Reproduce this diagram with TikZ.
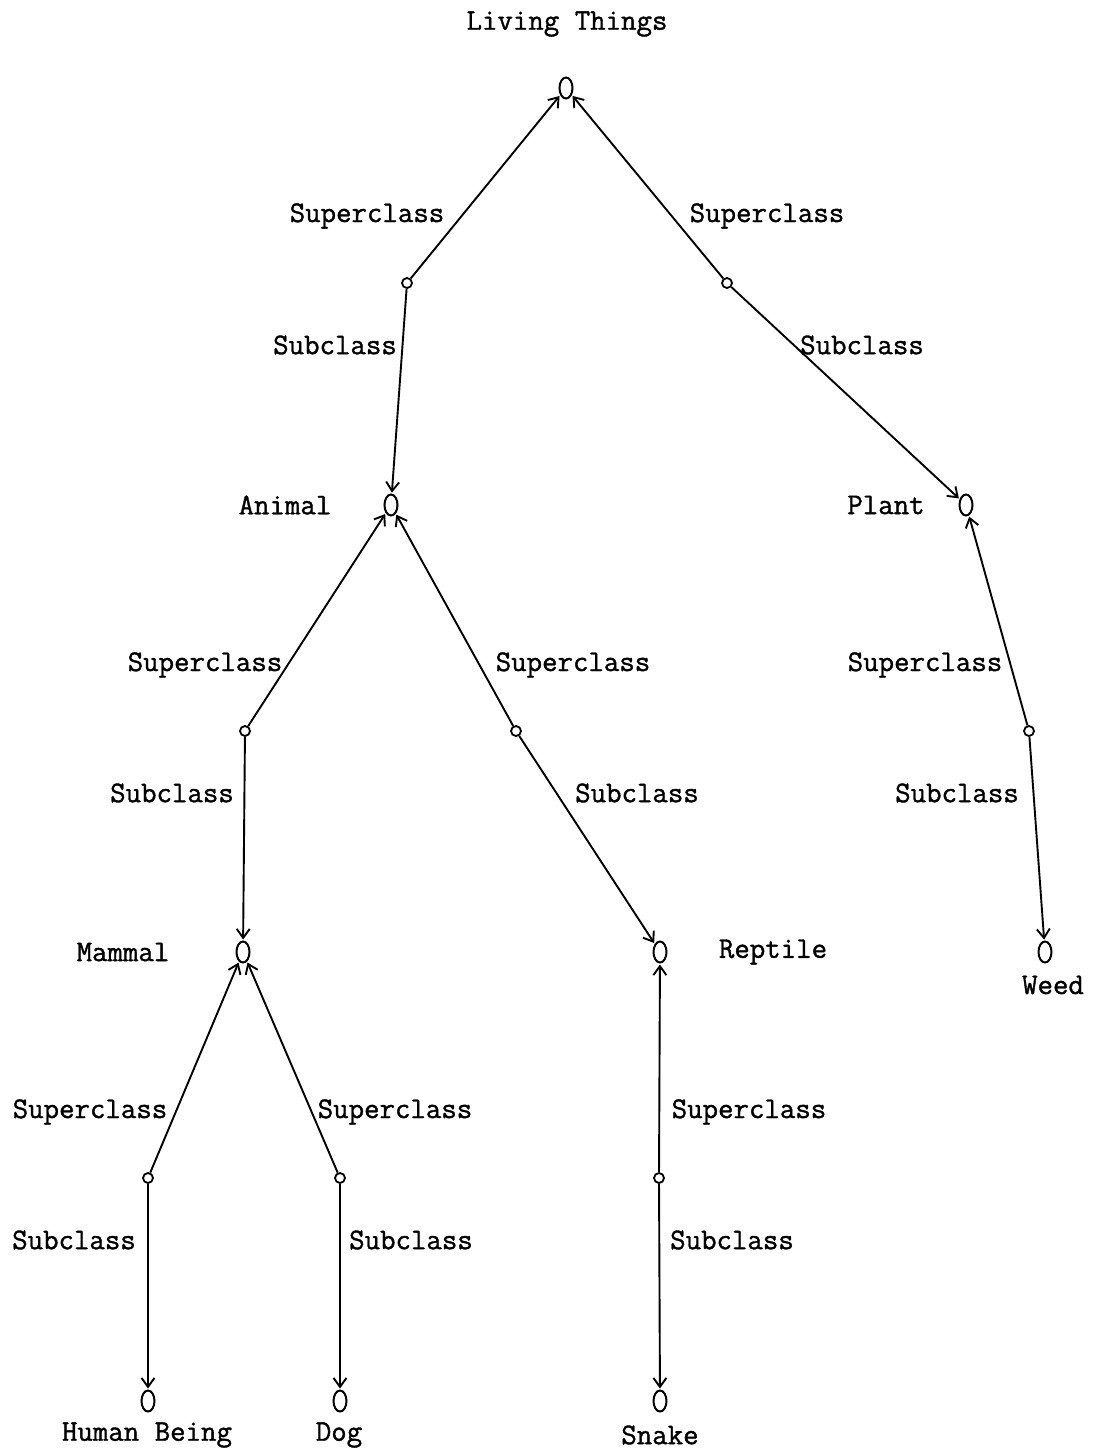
\documentclass[tikz,border=0pt]{standalone}
\usepackage{fontspec}
\setmonofont{Latin Modern Mono}[AutoFakeBold=1.2]
\usetikzlibrary{shapes.geometric,arrows.meta}
\tikzset{
  cls/.style={draw,ellipse,line width=2pt,minimum width=13pt,minimum height=21pt,inner sep=0pt},
  mid/.style={draw,circle,line width=1.8pt,minimum size=10pt,inner sep=0pt},
  lbl/.style={font=\ttfamily\bfseries\fontsize{30}{30}\selectfont,inner sep=0pt},
  link/.style={line width=1.9pt,-{Straight Barb[length=9pt,width=13pt,line width=1.9pt]},shorten >=1pt}
}
\begin{document}
\begin{tikzpicture}[x=1pt,y=-1pt]
\useasboundingbox (0,0) rectangle (1095,1452);
% class nodes
\node[cls] (lt) at (566,88) {};
\node[cls] (an) at (391,505) {};
\node[cls] (pl) at (966,505) {};
\node[cls] (ma) at (243,952) {};
\node[cls] (re) at (660,952) {};
\node[cls] (we) at (1045,952) {};
\node[cls] (hb) at (148,1401) {};
\node[cls] (dg) at (340,1401) {};
\node[cls] (sn) at (660,1401) {};
% mid nodes
\node[mid] (m1) at (407,283) {};
\node[mid] (m2) at (727,283) {};
\node[mid] (m3) at (245,731) {};
\node[mid] (m4) at (516,731) {};
\node[mid] (m5) at (1029,731) {};
\node[mid] (m6) at (148,1178) {};
\node[mid] (m7) at (340,1178) {};
\node[mid] (m8) at (659,1178) {};
% class labels
\node[lbl] (tlt) at (567,24) {Living Things};
\node[lbl] (tan) at (285,505) {Animal};
\node[lbl] (tpl) at (886,505) {Plant};
\node[lbl] (tma) at (123,952) {Mammal};
\node[lbl] (tre) at (773,952) {Reptile};
\node[lbl] (twe) at (1053,985) {Weed};
\node[lbl] (thb) at (147,1435) {Human Being};
\node[lbl] (tdg) at (339,1435) {Dog};
\node[lbl] (tsn) at (660,1435) {Snake};
% edge labels
\node[lbl] (s1) at (367,216) {Superclass};
\node[lbl] (s2) at (767,216) {Superclass};
\node[lbl] (b1) at (335,345) {Subclass};
\node[lbl] (b2) at (862,345) {Subclass};
\node[lbl] (s3) at (205,665) {Superclass};
\node[lbl] (s4) at (573,665) {Superclass};
\node[lbl] (s5) at (925,665) {Superclass};
\node[lbl] (b3) at (172,793) {Subclass};
\node[lbl] (b4) at (637,793) {Subclass};
\node[lbl] (b5) at (957,793) {Subclass};
\node[lbl] (s6) at (90,1112) {Superclass};
\node[lbl] (s7) at (395,1112) {Superclass};
\node[lbl] (s8) at (749,1112) {Superclass};
\node[lbl] (b6) at (74,1240) {Subclass};
\node[lbl] (b7) at (411,1240) {Subclass};
\node[lbl] (b8) at (732,1240) {Subclass};
% connectors
\draw[link] (m1) -- (lt);
\draw[link] (m2) -- (lt);
\draw[link] (m1) -- (an);
\draw[link] (m2) -- (pl);
\draw[link] (m3) -- (an);
\draw[link] (m4) -- (an);
\draw[link] (m5) -- (pl);
\draw[link] (m3) -- (ma);
\draw[link] (m4) -- (re);
\draw[link] (m5) -- (we);
\draw[link] (m6) -- (ma);
\draw[link] (m7) -- (ma);
\draw[link] (m8) -- (re);
\draw[link] (m6) -- (hb);
\draw[link] (m7) -- (dg);
\draw[link] (m8) -- (sn);
\end{tikzpicture}
\end{document}
